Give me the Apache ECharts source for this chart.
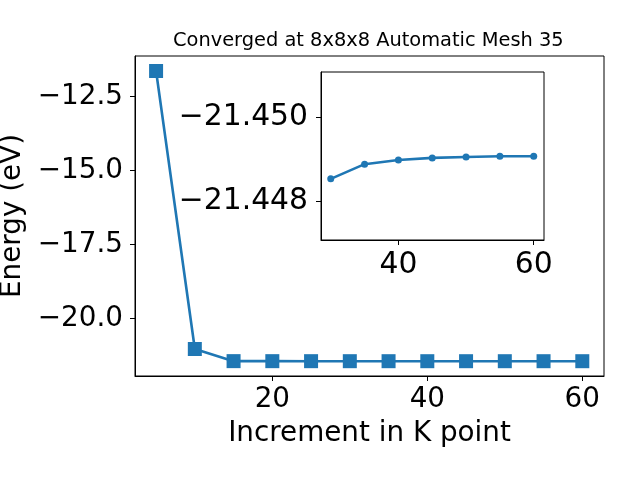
<!DOCTYPE html>
<html>
<head>
<meta charset="utf-8">
<script src="https://cdn.jsdelivr.net/npm/echarts@6/dist/echarts.min.js"></script>
<style>
  html, body { margin: 0; padding: 0; background: #fff; }
  #main { width: 640px; height: 480px; }
</style>
</head>
<body>
<div id="main"></div>
<script>
// k-point increments and total energies (eV)
const kpoints = [5, 10, 15, 20, 25, 30, 35, 40, 45, 50, 55, 60];
const energy = [-11.645, -21.037, -21.4470, -21.4478, -21.4482, -21.44853, -21.44888, -21.44898, -21.44903, -21.44905, -21.44907, -21.44907];
// inset shows the converged tail
const insetK = kpoints.slice(5);
const insetE = energy.slice(5);
const mainXTicks = [20, 40, 60];
const mainYTicks = [-20, -17.5, -15, -12.5];
const insetXTicks = [40, 60];
const insetYTicks = [-21.45, -21.448];

const FONT = "DejaVu Sans";
const BLUE = "#1f77b4";
const minus = (s) => String(s).replace("-", "\u2212");

let myChart = echarts.init(document.getElementById("main"));

function axisCommon(ticks, fmt, margin, size) {
  return {
    axisLine: { show: true, onZero: false, lineStyle: { color: "#000", width: 1 } },
    axisTick: { show: true, inside: false, length: 5, customValues: ticks, lineStyle: { color: "#000", width: 1 } },
    axisLabel: { customValues: ticks, margin: margin, color: "#000", fontFamily: FONT, fontSize: size, formatter: fmt },
    splitLine: { show: false },
  };
}

myChart.setOption({
  animation: false,
  graphic: [
    {
      type: "text",
      left: 173,
      top: 31,
      style: {
        text: "Converged at 8x8x8 Automatic Mesh 35",
        fontFamily: FONT,
        fontSize: 19.4,
        fill: "#000",
      },
    },
  ],
  grid: [
    { left: 135, top: 56, width: 469, height: 320, outerBoundsMode: "none", containLabel: false,
      show: true, borderColor: "#000", borderWidth: 1, backgroundColor: "#fff" },
    { left: 321, top: 72, width: 223, height: 168, outerBoundsMode: "none", containLabel: false,
      show: true, borderColor: "#000", borderWidth: 1, backgroundColor: "#fff", z: 5 },
  ],
  xAxis: [
    Object.assign(axisCommon(mainXTicks, (v) => minus(v), 10, 27.8), {
      type: "value", gridIndex: 0, min: 2.28, max: 62.8,
      name: "Increment in K point", nameLocation: "middle", nameGap: 44,
      nameTextStyle: { color: "#000", fontFamily: FONT, fontSize: 27.8 },
    }),
    Object.assign(axisCommon(insetXTicks, (v) => minus(v), 10, 29.8), {
      type: "value", gridIndex: 1, min: 28.56, max: 61.52, z: 6,
    }),
  ],
  yAxis: [
    Object.assign(axisCommon(mainYTicks, (v) => minus(v.toFixed(1)), 12, 27.8), {
      type: "value", gridIndex: 0, min: -21.949, max: -11.139,
      name: "Energy (eV)", nameLocation: "middle", nameGap: 103,
      nameTextStyle: { color: "#000", fontFamily: FONT, fontSize: 27.8 },
    }),
    Object.assign(axisCommon(insetYTicks, (v) => minus(v.toFixed(3)), 13, 29.8), {
      type: "value", gridIndex: 1, min: -21.45108, max: -21.44707, inverse: true, z: 6,
    }),
  ],
  series: [
    {
      type: "line",
      xAxisIndex: 0,
      yAxisIndex: 0,
      data: kpoints.map((k, i) => [k, energy[i]]),
      symbol: "rect",
      symbolSize: 14,
      showSymbol: true,
      itemStyle: { color: BLUE },
      lineStyle: { color: BLUE, width: 2.6 },
      z: 3,
    },
    {
      type: "line",
      xAxisIndex: 1,
      yAxisIndex: 1,
      data: insetK.map((k, i) => [k, insetE[i]]),
      symbol: "circle",
      symbolSize: 7,
      itemStyle: { color: BLUE },
      lineStyle: { color: BLUE, width: 2.6 },
      z: 7,
    },
  ],
});
window.onresize = myChart.resize;
</script>
</body>
</html>
